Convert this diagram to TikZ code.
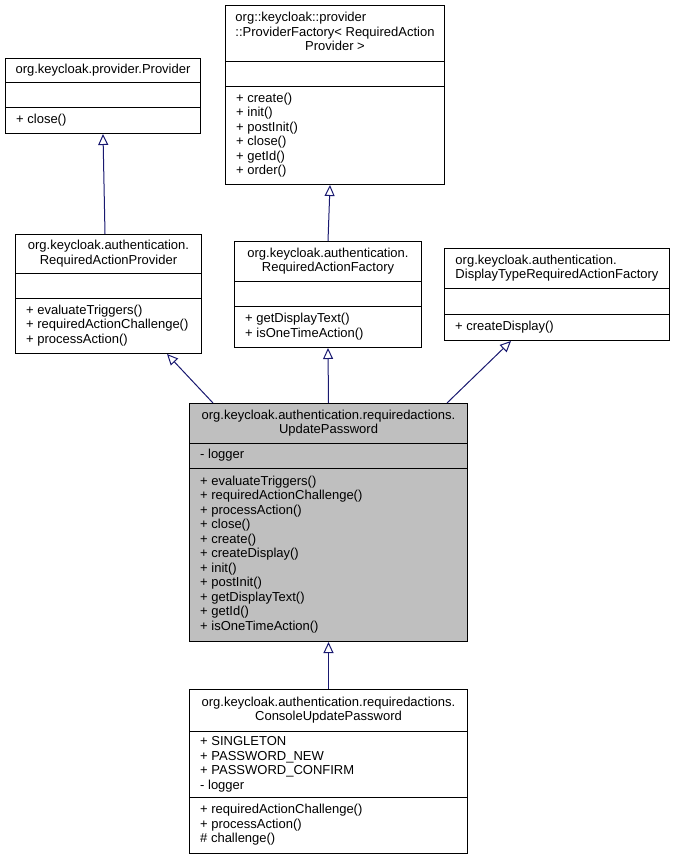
\documentclass[tikz,border=0pt]{standalone}
\usepackage{fontspec}
\setmainfont{Liberation Sans}
\usetikzlibrary{arrows.meta,positioning}
\definecolor{dxnavy}{RGB}{25,25,112}
\definecolor{dxgray}{RGB}{191,191,191}

\begin{document}
\begin{tikzpicture}[x=1pt,y=-1pt,
  cls/.style={draw=black, line width=1pt, inner sep=0pt, anchor=north west},
  title/.style={inner sep=0pt, font=\fontsize{13}{14.5}\selectfont},
  members/.style={inner sep=0pt, anchor=west, font=\fontsize{13}{14.5}\selectfont},
  divider/.style={draw=black, line width=1pt},
  inherit/.style={dxnavy, line width=1pt, -{Triangle[open,length=11pt,width=10pt]}}]
\useasboundingbox (0,0) rectangle (675,860);

% Provider
\node[cls, minimum width=195pt, minimum height=75pt] (prov) at (5,58) {};
\draw[divider] (prov.west |- 0,82) -- (prov.east |- 0,82);
\draw[divider] (prov.west |- 0,107) -- (prov.east |- 0,107);
\node[title] (provt) at (prov.north |- 0,70.5) {org.keycloak.provider.Provider};
\node[members] (provm) at (16,120.5) {\begin{tabular}{@{}l@{}}+ close()\end{tabular}};

% ProviderFactory
\node[cls, minimum width=219pt, minimum height=179pt] (pf) at (225,5) {};
\draw[divider] (pf.west |- 0,61) -- (pf.east |- 0,61);
\draw[divider] (pf.west |- 0,86) -- (pf.east |- 0,86);
\node[title] (pft) at (pf.north |- 0,33.5) {\begin{tabular}{@{}l@{}}org::keycloak::provider\\::ProviderFactory< RequiredAction\\\multicolumn{1}{@{}c@{}}{Provider >}\end{tabular}};
\node[members] (pfm) at (236,135.5) {\begin{tabular}{@{}l@{}}+ create()\\+ init()\\+ postInit()\\+ close()\\+ getId()\\+ order()\end{tabular}};

% RequiredActionProvider
\node[cls, minimum width=186pt, minimum height=119pt] (rap) at (15,234) {};
\draw[divider] (rap.west |- 0,273) -- (rap.east |- 0,273);
\draw[divider] (rap.west |- 0,298) -- (rap.east |- 0,298);
\node[title] (rapt) at (rap.north |- 0,254) {\begin{tabular}{@{}l@{}}org.keycloak.authentication.\\\multicolumn{1}{@{}c@{}}{RequiredActionProvider}\end{tabular}};
\node[members] (rapm) at (26,326) {\begin{tabular}{@{}l@{}}+ evaluateTriggers()\\+ requiredActionChallenge()\\+ processAction()\end{tabular}};

% RequiredActionFactory
\node[cls, minimum width=187pt, minimum height=106pt] (raf) at (234,241) {};
\draw[divider] (raf.west |- 0,281) -- (raf.east |- 0,281);
\draw[divider] (raf.west |- 0,306) -- (raf.east |- 0,306);
\node[title] (raft) at (raf.north |- 0,261.5) {\begin{tabular}{@{}l@{}}org.keycloak.authentication.\\\multicolumn{1}{@{}c@{}}{RequiredActionFactory}\end{tabular}};
\node[members] (rafm) at (245,327) {\begin{tabular}{@{}l@{}}+ getDisplayText()\\+ isOneTimeAction()\end{tabular}};

% DisplayTypeRequiredActionFactory
\node[cls, minimum width=225pt, minimum height=92pt] (dt) at (444,248) {};
\draw[divider] (dt.west |- 0,288) -- (dt.east |- 0,288);
\draw[divider] (dt.west |- 0,314) -- (dt.east |- 0,314);
\node[title] (dtt) at (dt.north |- 0,268.5) {\begin{tabular}{@{}l@{}}org.keycloak.authentication.\\\multicolumn{1}{@{}c@{}}{DisplayTypeRequiredActionFactory}\end{tabular}};
\node[members] (dtm) at (455,327.5) {\begin{tabular}{@{}l@{}}+ createDisplay()\end{tabular}};

% UpdatePassword
\node[cls, fill=dxgray, minimum width=278pt, minimum height=238pt] (up) at (189,403) {};
\draw[divider] (up.west |- 0,443) -- (up.east |- 0,443);
\draw[divider] (up.west |- 0,468) -- (up.east |- 0,468);
\node[title] (upt) at (up.north |- 0,423.5) {\begin{tabular}{@{}l@{}}org.keycloak.authentication.requiredactions.\\\multicolumn{1}{@{}c@{}}{UpdatePassword}\end{tabular}};
\node[members] (upa) at (200,456) {\begin{tabular}{@{}l@{}}- logger\end{tabular}};
\node[members] (upm) at (200,555) {\begin{tabular}{@{}l@{}}+ evaluateTriggers()\\+ requiredActionChallenge()\\+ processAction()\\+ close()\\+ create()\\+ createDisplay()\\+ init()\\+ postInit()\\+ getDisplayText()\\+ getId()\\+ isOneTimeAction()\end{tabular}};

% ConsoleUpdatePassword
\node[cls, minimum width=278pt, minimum height=164pt] (cup) at (189,689) {};
\draw[divider] (cup.west |- 0,731) -- (cup.east |- 0,731);
\draw[divider] (cup.west |- 0,797) -- (cup.east |- 0,797);
\node[title] (cupt) at (cup.north |- 0,710.5) {\begin{tabular}{@{}l@{}}org.keycloak.authentication.requiredactions.\\\multicolumn{1}{@{}c@{}}{ConsoleUpdatePassword}\end{tabular}};
\node[members] (cupa) at (200,764.5) {\begin{tabular}{@{}l@{}}+ SINGLETON\\+ PASSWORD\_NEW\\+ PASSWORD\_CONFIRM\\- logger\end{tabular}};
\node[members] (cupm) at (200,825.5) {\begin{tabular}{@{}l@{}}+ requiredActionChallenge()\\+ processAction()\\\# challenge()\end{tabular}};

% Inheritance arrows
\draw[inherit] ([xshift=90pt]rap.north west) -- ([xshift=98pt]prov.south west);
\draw[inherit] ([xshift=94pt]raf.north west) -- ([xshift=105pt]pf.south west);
\draw[inherit] ([xshift=24pt]up.north west) -- ([xshift=152pt]rap.south west);
\draw[inherit] (up.north) -- (raf.south);
\draw[inherit] ([xshift=258pt]up.north west) -- ([xshift=67pt]dt.south west);
\draw[inherit] (cup.north) -- (up.south);
\end{tikzpicture}
\end{document}
